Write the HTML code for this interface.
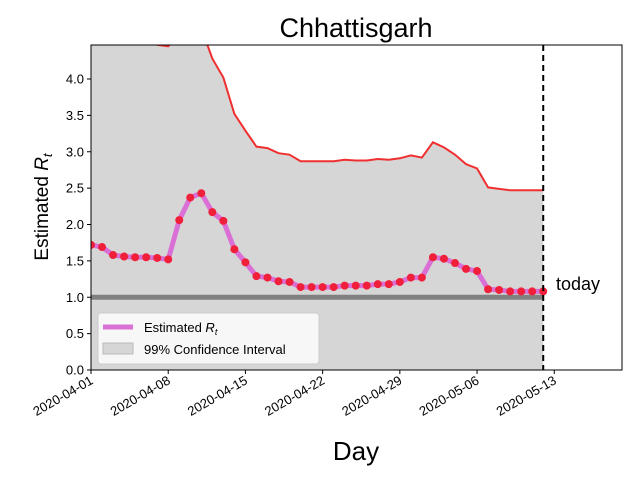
<!DOCTYPE html>
<html><head><meta charset="utf-8"><style>
body{margin:0;background:#fff}
svg text{font-family:"Liberation Sans","DejaVu Sans",sans-serif}
</style></head><body>
<svg id="chart" width="640" height="480" viewBox="0 0 640 480" xmlns="http://www.w3.org/2000/svg">
<defs><clipPath id="clip"><rect x="91" y="45" width="531" height="325"/></clipPath></defs>
<rect width="640" height="480" fill="#fff"/>
<text x="356" y="37" font-size="27" text-anchor="middle">Chhattisgarh</text>
<g id="plot" clip-path="url(#clip)"></g>
<g id="axes"></g>
<rect x="91" y="45" width="531" height="325" fill="none" stroke="#000" stroke-width="1"/>
<text x="556" y="290" font-size="18">today</text>
<text x="356" y="460" font-size="26" text-anchor="middle">Day</text>
<text transform="translate(48,207) rotate(-90)" font-size="19" text-anchor="middle">Estimated <tspan font-style="italic">R</tspan><tspan font-style="italic" font-size="13" dy="4">t</tspan></text>
<g>
<rect x="98" y="313" width="221" height="51" rx="3" fill="#fff" fill-opacity="0.8" stroke="#ccc"/>
<line x1="103" y1="327" x2="133" y2="327" stroke="#da70d6" stroke-width="5"/>
<text x="144" y="332" font-size="13">Estimated <tspan font-style="italic">R</tspan><tspan font-style="italic" font-size="9" dy="3">t</tspan></text>
<rect x="103" y="343" width="30" height="11" fill="#d6d6d6" stroke="#bbb"/>
<text x="144" y="354" font-size="13">99% Confidence Interval</text>
</g>
</svg>
<script>
const dayLabels=["2020-04-01","2020-04-08","2020-04-15","2020-04-22","2020-04-29","2020-05-06","2020-05-13"];
const yTicks=[0.0,0.5,1.0,1.5,2.0,2.5,3.0,3.5,4.0];
const rt=[1.72,1.69,1.58,1.56,1.55,1.55,1.54,1.52,2.06,2.37,2.43,2.17,2.05,1.66,1.48,1.29,1.27,1.22,1.21,1.14,1.14,1.14,1.14,1.16,1.16,1.16,1.18,1.18,1.21,1.27,1.27,1.55,1.53,1.47,1.39,1.36,1.11,1.10,1.08,1.08,1.08,1.08];
const upper=[4.6,4.6,4.6,4.6,4.6,4.55,4.47,4.45,4.6,4.8,4.7,4.28,4.02,3.52,3.29,3.07,3.05,2.98,2.96,2.87,2.87,2.87,2.87,2.89,2.88,2.88,2.90,2.89,2.91,2.95,2.92,3.13,3.06,2.96,2.83,2.77,2.51,2.49,2.47,2.47,2.47,2.47];
const lower=rt.map(()=>0);
const todayIndex=41;
const X=d=>91+d*11.03;
const Y=v=>370-v*72.75;
const NS="http://www.w3.org/2000/svg";
function mk(tag,attrs,parent){const e=document.createElementNS(NS,tag);for(const k in attrs)e.setAttribute(k,attrs[k]);parent.appendChild(e);return e;}
const plot=document.getElementById('plot'),axes=document.getElementById('axes');
let pts=upper.map((v,i)=>X(i)+','+Y(v)).concat(lower.map((v,i)=>[X(i),Y(v)]).reverse().map(p=>p.join(','))).join(' ');
const band=mk('polygon',{points:pts,fill:'#d6d6d6'},plot);


const ul=mk('polyline',{points:upper.map((v,i)=>X(i)+','+Y(v)).join(' '),fill:'none',stroke:'#f03030','stroke-width':2},plot);


const ref=mk('line',{x1:91,x2:X(todayIndex),y1:Y(1),y2:Y(1),stroke:'#808080','stroke-width':5},plot);


const rl=mk('polyline',{points:rt.map((v,i)=>X(i)+','+Y(v)).join(' '),fill:'none',stroke:'#da70d6','stroke-width':5,'stroke-linejoin':'round'},plot);


rt.forEach((v,i)=>{const c=mk('circle',{cx:X(i),cy:Y(v),r:4,fill:'#f0203a'},plot);

});
const td=mk('line',{x1:X(todayIndex),x2:X(todayIndex),y1:45,y2:370,stroke:'#000','stroke-width':2,'stroke-dasharray':'6,4'},plot);


yTicks.forEach(v=>{const y=Y(v);
mk('line',{x1:87,x2:91,y1:y,y2:y,stroke:'#000'},axes);
const t=mk('text',{x:84,y:y+4.5,'font-size':13,'text-anchor':'end'},axes);t.textContent=v.toFixed(1);

});
dayLabels.forEach((d,i)=>{const x=X(i*7);
mk('line',{x1:x,x2:x,y1:370,y2:374,stroke:'#000'},axes);
const t=mk('text',{transform:`translate(${x+3},${383}) rotate(-30)`,'font-size':13,'text-anchor':'end'},axes);t.textContent=d;

});
</script>
</body></html>
